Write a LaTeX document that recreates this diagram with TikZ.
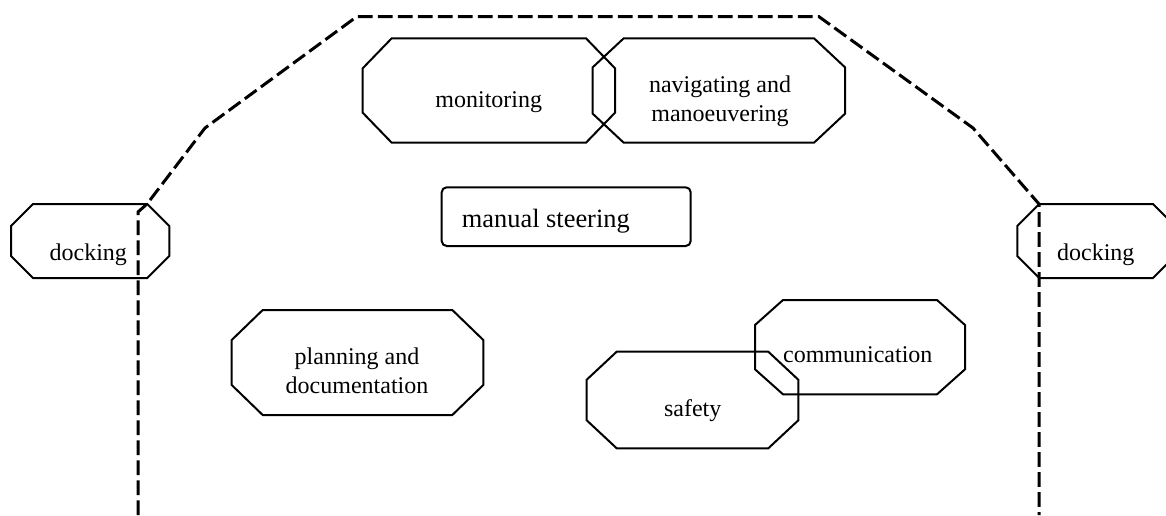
\documentclass[tikz,border=0pt]{standalone}
\usepackage{fontspec}
\setmainfont{Liberation Serif}

\newcommand{\octagon}[6]{%
        \draw[box] (#1+#5,#2) -- (#3-#5,#2) -- (#3,#2+#6) -- (#3,#4-#6) -- (#3-#5,#4) -- (#1+#5,#4) -- (#1,#4-#6) -- (#1,#2+#6) -- cycle;}

\begin{document}
\begin{tikzpicture}[x=0.5pt, y=-0.5pt,
        box/.style={line width=1pt, line join=miter},
        outline/.style={line width=1.5pt, dash pattern=on 7.3pt off 2.7pt},
        txt/.style={font=\fontsize{12}{14.5}\selectfont, align=center, inner sep=0pt}]

        \useasboundingbox (0,0) rectangle (1166,515);
        \clip (0,0) rectangle (1166,515);

        \octagon{362.7}{38.3}{615}{142.7}{29}{30}
        \octagon{592.7}{38.3}{845}{142.7}{31}{29}
        \octagon{11}{204}{169.3}{278}{22}{22}
        \octagon{1017.3}{204}{1175}{278}{22}{22}
        \octagon{231.7}{310}{483.3}{415}{31}{30}
        \octagon{586.7}{351.7}{798.3}{448.3}{30}{28}
        \octagon{755}{300}{965}{394.3}{28}{25}
        \draw[box, rounded corners=2.5pt] (441.7,187.3) rectangle (690.7,246);

        \node[txt, anchor=base] (monitoring) at (488.8,107) {monitoring};
        \node[txt] (navigating) at (720,101) {navigating and\\manoeuvering};
        \node[txt, anchor=base] (dockingleft) at (88.3,260) {docking};
        \node[txt, anchor=base] (dockingright) at (1095.8,260) {docking};
        \node[txt, anchor=base, font=\fontsize{13.2}{16}\selectfont] (steering) at (545.8,227.7) {manual steering};
        \node[txt] (planning) at (357,371) {planning and\\documentation};
        \node[txt, anchor=base] (safety) at (692.7,416.7) {safety};
        \node[txt, anchor=base] (communication) at (857.8,362.7) {communication};

        \draw[outline] (138,515) -- (138,212) -- (147,204) -- (205,128) -- (356.7,16.7) -- (819,16.7) -- (973,128) -- (1039,204) -- (1039,515);
\end{tikzpicture}
\end{document}
